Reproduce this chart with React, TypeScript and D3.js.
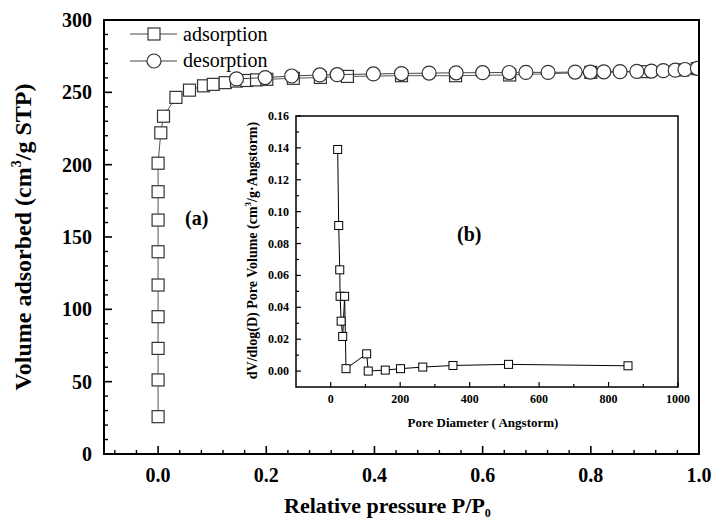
import React from 'react';
import * as d3 from 'd3';

// ---- Main isotherm data ----
const adsP = [0, 0, 0, 0, 0, 0, 0, 0, 0, 0.005, 0.010, 0.033, 0.058, 0.084, 0.102, 0.124, 0.145, 0.164, 0.182, 0.201, 0.25, 0.30, 0.35, 0.45, 0.55, 0.65, 0.80, 0.90, 0.97, 0.997];
const adsV = [25.8, 51.2, 73, 94.9, 116.8, 139.8, 161.7, 181.3, 201, 222, 233.5, 246.5, 251.5, 254.5, 255.5, 256.7, 257.8, 258.2, 258.6, 259, 259.7, 260.3, 261, 261.5, 261.5, 262, 263.8, 264.3, 265.5, 266.4];
const desP = [0.145, 0.198, 0.247, 0.299, 0.331, 0.398, 0.45, 0.501, 0.551, 0.600, 0.649, 0.680, 0.721, 0.771, 0.799, 0.824, 0.854, 0.885, 0.912, 0.934, 0.956, 0.974, 0.997];
const desV = [259.3, 260.2, 261.3, 262, 262.2, 262.7, 263, 263.3, 263.5, 263.6, 263.7, 263.8, 263.8, 264, 264, 264.2, 264.3, 264.5, 264.7, 265, 265.3, 265.8, 266.6];

const xMajor = [0, 0.2, 0.4, 0.6, 0.8, 1.0];
const xTickLabels = ['0.0', '0.2', '0.4', '0.6', '0.8', '1.0'];
const yMajor = [0, 50, 100, 150, 200, 250, 300];

// ---- Inset pore size distribution ----
const poreD = [20, 23, 26, 27, 30, 34.5, 40, 44, 103.5, 108, 157, 201, 265, 352, 512, 856];
const poreV = [0.139, 0.0913, 0.0635, 0.0469, 0.0313, 0.0217, 0.0469, 0.0015, 0.0108, 0.0, 0.0006, 0.0015, 0.0025, 0.0035, 0.0042, 0.0033];
const ixMajor = [0, 200, 400, 600, 800, 1000];
const iyMajor = [0, 0.02, 0.04, 0.06, 0.08, 0.10, 0.12, 0.14, 0.16];

const FONT = "'Liberation Serif', 'DejaVu Serif', serif";

export default function App() {
  const L = 104, R = 699, T = 20, B = 454;
  const x = d3.scaleLinear().domain([-0.1, 1.0]).range([L, R]);
  const y = d3.scaleLinear().domain([0, 300]).range([B, T]);

  const xMinor = d3.range(-2, 26).map(i => +(i * 0.04).toFixed(4)).filter(v => v > -0.1 && v < 1.0 && Math.abs(v / 0.2 - Math.round(v / 0.2)) > 1e-6);
  const yMinor = d3.range(1, 30).map(i => i * 10).filter(v => v % 50 !== 0);

  const ads = adsP.map((p, i) => [p, adsV[i]] as [number, number]);
  const des = desP.map((p, i) => [p, desV[i]] as [number, number]);
  const line = d3.line<[number, number]>().x(d => x(d[0])).y(d => y(d[1]));

  // inset
  const iL = 296, iR = 678, iT = 116, iB = 387;
  const xi = d3.scaleLinear().domain([-100, 1000]).range([iL, iR]);
  const yi = d3.scaleLinear().domain([-0.01, 0.16]).range([iB, iT]);
  const ixMinor = d3.range(100, 1000, 200);
  const iyMinor = d3.range(0, 8).map(i => +(0.01 + i * 0.02).toFixed(3));
  const pore = poreD.map((d, i) => [d, poreV[i]] as [number, number]);
  const iline = d3.line<[number, number]>().x(d => xi(d[0])).y(d => yi(d[1]));

  const sq = 12, cr = 7, isq = 8;

  return (
    <svg width={713} height={520} style={{ position: 'absolute', left: 0, top: 0, background: '#fff', fontFamily: FONT }}>
      <style>{`text, tspan { font-family: ${FONT}; }`}</style>
      <defs>
        <clipPath id="plotclip"><rect x={L} y={T} width={R - L} height={B - T} /></clipPath>
      </defs>
      <rect x={0} y={0} width={713} height={520} fill="#fff" />

      {/* main data */}
      <g clipPath="url(#plotclip)">
        <path d={line(ads) || ''} fill="none" stroke="#555" strokeWidth={1} />
        {ads.map((d, i) => (
          <rect key={'a' + i} x={x(d[0]) - sq / 2} y={y(d[1]) - sq / 2} width={sq} height={sq} fill="#fff" stroke="#333" strokeWidth={1.2} />
        ))}
        <path d={line(des) || ''} fill="none" stroke="#444" strokeWidth={1} />
        {des.map((d, i) => (
          <circle key={'d' + i} cx={x(d[0])} cy={y(d[1])} r={cr} fill="#fff" stroke="#333" strokeWidth={1.2} />
        ))}
      </g>

      {/* main frame */}
      <rect x={L} y={T} width={R - L} height={B - T} fill="none" stroke="#000" strokeWidth={2} />
      {xMajor.map((v, i) => (
        <g key={'xm' + i}>
          <line x1={x(v)} x2={x(v)} y1={B} y2={B - 8} stroke="#000" strokeWidth={1.6} />
          <text x={x(v)} y={482} textAnchor="middle" fontSize={20} fontWeight="bold">{xTickLabels[i]}</text>
        </g>
      ))}
      {xMinor.map((v, i) => (
        <line key={'xn' + i} x1={x(v)} x2={x(v)} y1={B} y2={B - 4} stroke="#000" strokeWidth={1.4} />
      ))}
      {yMajor.map((v, i) => (
        <g key={'ym' + i}>
          <line x1={L} x2={L + 8} y1={y(v)} y2={y(v)} stroke="#000" strokeWidth={1.6} />
          <text x={92} y={y(v) + 7} textAnchor="end" fontSize={20} fontWeight="bold">{v}</text>
        </g>
      ))}
      {yMinor.map((v, i) => (
        <line key={'yn' + i} x1={L} x2={L + 4} y1={y(v)} y2={y(v)} stroke="#000" strokeWidth={1.4} />
      ))}

      {/* axis titles */}
      <text x={284} y={513} fontSize={22} fontWeight="bold">
        Relative pressure P/P<tspan fontSize={12} dy={4}>0</tspan>
      </text>
      <text transform={`translate(31,${(T + B) / 2}) rotate(-90)`} textAnchor="middle" fontSize={24} fontWeight="bold">
        Volume adsorbed (cm<tspan fontSize={14} dy={-10}>3</tspan><tspan dy={10}>/g STP)</tspan>
      </text>

      {/* legend */}
      <line x1={130} x2={177} y1={34} y2={34} stroke="#444" strokeWidth={1} />
      <rect x={154 - sq / 2} y={34 - sq / 2} width={sq} height={sq} fill="#fff" stroke="#333" strokeWidth={1.2} />
      <text x={183} y={41} fontSize={20}>adsorption</text>
      <line x1={130} x2={177} y1={61} y2={61} stroke="#444" strokeWidth={1} />
      <circle cx={154} cy={61} r={cr} fill="#fff" stroke="#333" strokeWidth={1.2} />
      <text x={183} y={67} fontSize={20}>desorption</text>

      <text x={185} y={225} fontSize={20} fontWeight="bold">(a)</text>

      {/* inset */}
      <rect x={iL} y={iT} width={iR - iL} height={iB - iT} fill="#fff" stroke="#000" strokeWidth={1.5} />
      <path d={iline(pore) || ''} fill="none" stroke="#000" strokeWidth={1} />
      {pore.map((d, i) => (
        <rect key={'p' + i} x={xi(d[0]) - isq / 2} y={yi(d[1]) - isq / 2} width={isq} height={isq} fill="#fff" stroke="#000" strokeWidth={1} />
      ))}
      {ixMajor.map((v, i) => (
        <g key={'ixm' + i}>
          <line x1={xi(v)} x2={xi(v)} y1={iB} y2={iB - 5} stroke="#000" strokeWidth={1.2} />
          <text x={xi(v)} y={403} textAnchor="middle" fontSize={12} fontWeight="bold">{v}</text>
        </g>
      ))}
      {ixMinor.map((v, i) => (
        <line key={'ixn' + i} x1={xi(v)} x2={xi(v)} y1={iB} y2={iB - 3} stroke="#000" strokeWidth={1.2} />
      ))}
      {iyMajor.map((v, i) => (
        <g key={'iym' + i}>
          <line x1={iL} x2={iL + 5} y1={yi(v)} y2={yi(v)} stroke="#000" strokeWidth={1.2} />
          <text x={289} y={yi(v) + 4} textAnchor="end" fontSize={12} fontWeight="bold">{v.toFixed(2)}</text>
        </g>
      ))}
      {iyMinor.map((v, i) => (
        <line key={'iyn' + i} x1={iL} x2={iL + 3} y1={yi(v)} y2={yi(v)} stroke="#000" strokeWidth={1.2} />
      ))}
      <text x={(iL + iR) / 2 - 4} y={427} textAnchor="middle" fontSize={13} fontWeight="bold">Pore Diameter ( Angstorm)</text>
      <text transform={`translate(257,${(iT + iB) / 2 - 1}) rotate(-90)`} textAnchor="middle" fontSize={14} fontWeight="bold">
        dV/dlog(D) Pore Volume (cm<tspan fontSize={9} dy={-6}>3</tspan><tspan dy={6}>/g·Angstorm)</tspan>
      </text>
      <text x={457} y={241} fontSize={20} fontWeight="bold">(b)</text>
    </svg>
  );
}
